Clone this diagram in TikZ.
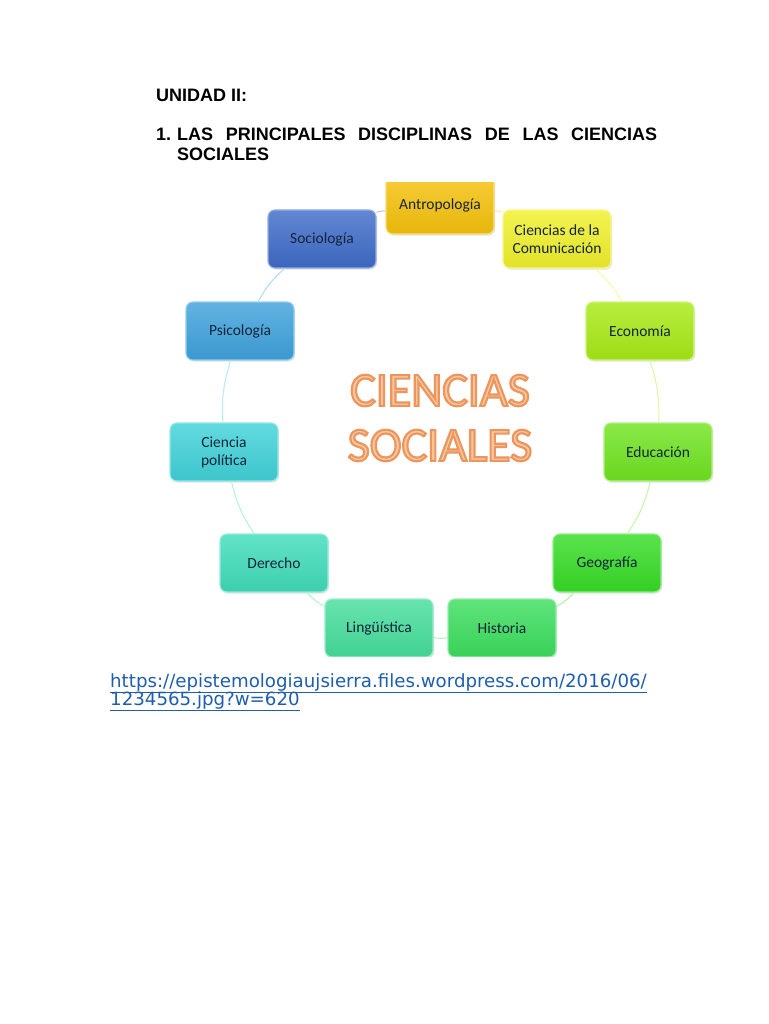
\documentclass[tikz,border=0pt]{standalone}
\usepackage{fontspec}
\usepackage{xcolor}
\usetikzlibrary{shadows}
\setmainfont{Liberation Sans}
\newfontfamily\calfont{Carlito}
\newfontfamily\cienfont[FakeBold=4.5]{Carlito}
\newfontfamily\urlfont{DejaVu Sans}
\definecolor{antgold}{HTML}{F5C20C}
\definecolor{comyellow}{HTML}{F0F02C}
\definecolor{ecolime}{HTML}{A8EA16}
\definecolor{edugreen}{HTML}{70E420}
\definecolor{geogreen}{HTML}{36DC26}
\definecolor{hisgreen}{HTML}{3CDE5E}
\definecolor{linmint}{HTML}{46DE9C}
\definecolor{deraqua}{HTML}{40DCBA}
\definecolor{polcyan}{HTML}{40D2D8}
\definecolor{psiblue}{HTML}{3FA2DC}
\definecolor{socblue}{HTML}{3F6CC9}
\definecolor{boxtext}{HTML}{15243A}
\definecolor{cienfill}{HTML}{F9C8A2}
\definecolor{linkblue}{HTML}{1F5EAE}
% outlined lettering: fill colour, then a stroke colour for the fake bold
\newcommand{\cienword}[1]{{\color{cienfill}\special{pdf:code 0.925 0.584 0.361 RG}#1}}

\begin{document}
\begin{tikzpicture}[
  x=1pt,y=-1pt,
  disc/.style={rounded corners=7pt,top color=#1!82!white,bottom color=#1!94!black,draw=#1!55!white,line width=1.1pt,
    drop shadow={opacity=0.22,shadow xshift=1.2pt,shadow yshift=-1.6pt},
    minimum width=108pt,minimum height=58pt,inner sep=2pt,align=center,text=boxtext,
    font=\calfont\fontsize{15.5}{18}\selectfont},
  ring/.style={draw=#1!40!white,line width=1pt},
  head/.style={anchor=base west,inner sep=0pt,font=\bfseries\fontsize{18}{21}\selectfont},
  link/.style={anchor=base west,inner sep=0pt,text=linkblue,font=\urlfont\fontsize{18.2}{18}\selectfont}
]
  \useasboundingbox[fill=white] (0,0) rectangle (768,1024);
  \node[head] (unidad) at (156,102) {UNIDAD II:};
  \node[head] (num) at (156,141) {1.};
  \node[head] (tit1) at (177,141) {\makebox[480pt][s]{LAS PRINCIPALES DISCIPLINAS DE LAS CIENCIAS}};
  \node[head] (tit2) at (177,161) {SOCIALES};
  \begin{scope}
    \clip (160,183) rectangle (720,656);
    \node[disc=antgold] (antro) at (440,205) {Antropología};
    \node[disc=comyellow] (comun) at (557,239) {Ciencias de la\\Comunicación};
    \node[disc=ecolime] (econ) at (640,331) {Economía};
    \node[disc=edugreen] (educ) at (658,452) {Educación};
    \node[disc=geogreen] (geo) at (607,563) {Geografía};
    \node[disc=hisgreen] (hist) at (502,628) {Historia};
    \node[disc=linmint] (ling) at (379,628) {Lingüística};
    \node[disc=deraqua] (derecho) at (274,563) {Derecho};
    \node[disc=polcyan] (cpol) at (224,452) {Ciencia\\política};
    \node[disc=psiblue] (psico) at (240,331) {Psicología};
    \node[disc=socblue] (socio) at (322,239) {Sociología};
    % ring between the disciplines
    \draw[ring=antgold] (antro) to[bend left=10] (comun);
    \draw[ring=comyellow] (comun) to[bend left=10] (econ);
    \draw[ring=ecolime] (econ) to[bend left=10] (educ);
    \draw[ring=edugreen] (educ) to[bend left=10] (geo);
    \draw[ring=geogreen] (geo) to[bend left=10] (hist);
    \draw[ring=hisgreen] (hist) to[bend left=10] (ling);
    \draw[ring=linmint] (ling) to[bend left=10] (derecho);
    \draw[ring=deraqua] (derecho) to[bend left=10] (cpol);
    \draw[ring=polcyan] (cpol) to[bend left=10] (psico);
    \draw[ring=psiblue] (psico) to[bend left=10] (socio);
    \draw[ring=socblue] (socio) to[bend left=10] (antro);
    \node[align=center,inner sep=0pt,font=\cienfont\fontsize{48}{55}\selectfont] (centro) at (440,418)
      {\cienword{CIENCIAS}\\\cienword{SOCIALES}};
  \end{scope}
  \node[link] (url1) at (110,687) {\underline{https://epistemologiaujsierra.files.wordpress.com/2016/06/}};
  \node[link] (url2) at (110,705) {\underline{1234565.jpg?w=620}};
\end{tikzpicture}
\end{document}
